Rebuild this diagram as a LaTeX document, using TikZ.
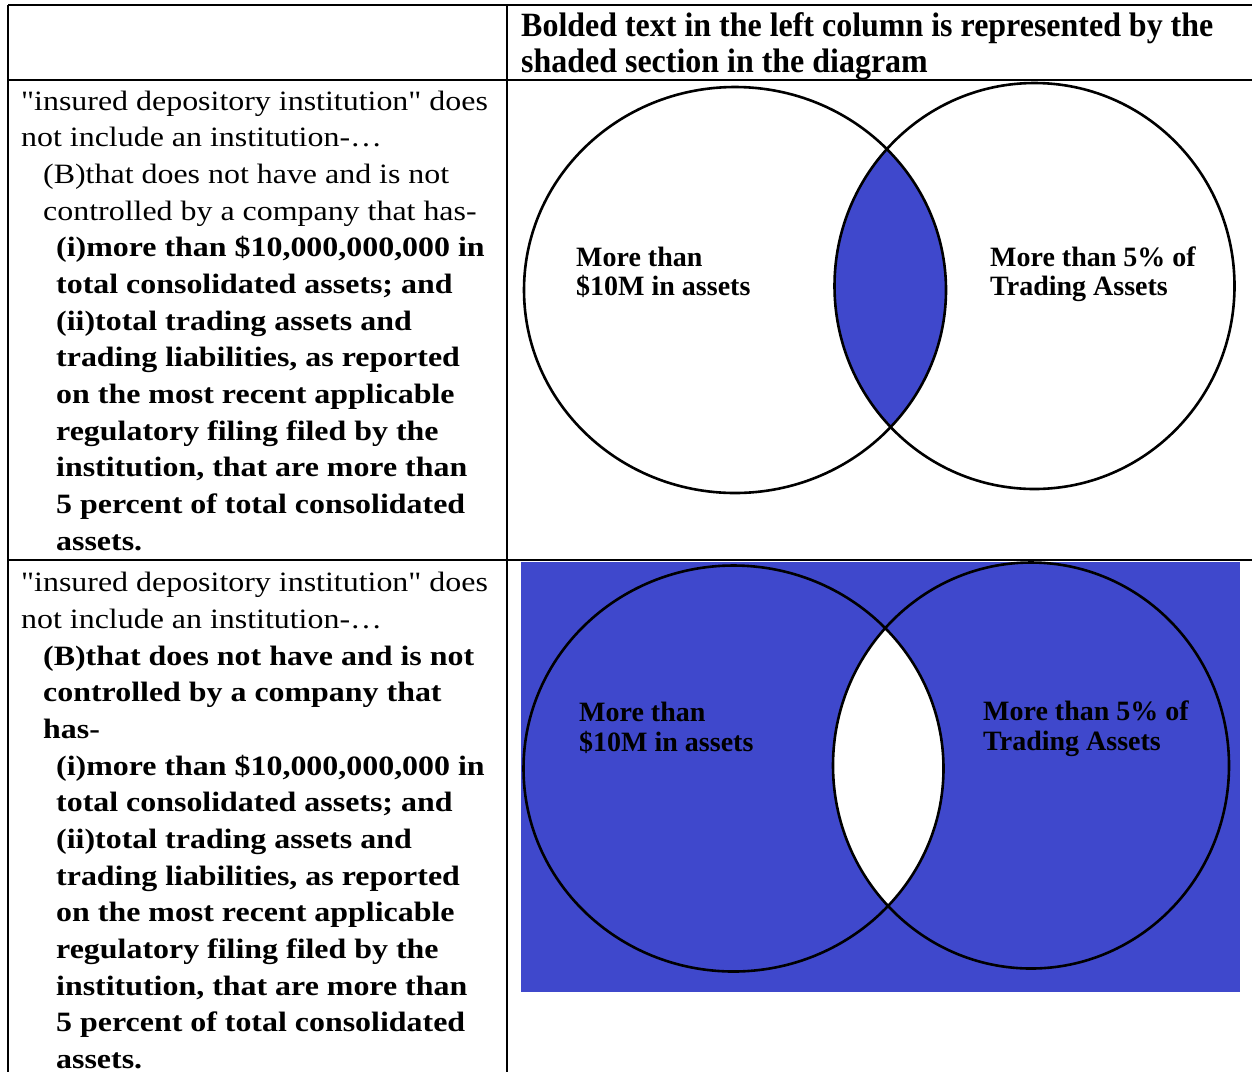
\documentclass[tikz,border=0pt]{standalone}
\usepackage{fontspec}
\setmainfont{Liberation Serif}
\newfontfamily\bodyfont[FakeStretch=1.14]{Liberation Serif}
\newfontfamily\headfont[FakeStretch=0.94]{Liberation Serif}
\newfontfamily\labfont{Liberation Serif}
\definecolor{vennblue}{RGB}{63,72,204}
\begin{document}
\begin{tikzpicture}[x=1pt,y=-1pt,
  body/.style={anchor=base west,inner sep=0pt,font=\bodyfont\fontsize{28}{34}\selectfont},
  bbody/.style={body,font=\bodyfont\bfseries\fontsize{28}{34}\selectfont},
  head/.style={anchor=base west,inner sep=0pt,font=\headfont\bfseries\fontsize{34}{40}\selectfont},
  lab/.style={anchor=base west,inner sep=0pt,font=\labfont\bfseries\fontsize{28}{30}\selectfont},
  rule/.style={line width=1.8pt,black},
  venn/.style={line width=2.6pt,black}]
\useasboundingbox (0,0) rectangle (1252,1072);
\fill[white] (0,0) rectangle (1252,1072);

% table rules
\coordinate (tl) at (8,5);
\coordinate (tr) at (1252,5);
\coordinate (hl) at (8,80);
\coordinate (hr) at (1252,80);
\coordinate (ml) at (8,560);
\coordinate (mr) at (1252,560);
\coordinate (bl) at (8,1072);
\coordinate (ct) at (507,5);
\coordinate (cb) at (507,1072);
\draw[rule] (tl) -- (tr);
\draw[rule] (hl) -- (hr);
\draw[rule] (ml) -- (mr);
\draw[rule] (tl) -- (bl);
\draw[rule] (ct) -- (cb);

% header
\node[head] (h1) at (521,36) {Bolded text in the left column is represented by the};
\node[head] (h2) at (521,72) {shaded section in the diagram};

% top row text
\node[body] (a1) at (21,110) {"insured depository institution" does};
\node[body] (a2) at (21,146.67) {not include an institution-…};
\node[body] (a3) at (43,183.33) {(B)that does not have and is not};
\node[body] (a4) at (43,220) {controlled by a company that has-};
\node[bbody] (a5) at (56,256.67) {(i)more than \$10,000,000,000 in};
\node[bbody] (a6) at (56,293.33) {total consolidated assets; and};
\node[bbody] (a7) at (56,330) {(ii)total trading assets and};
\node[bbody] (a8) at (56,366.67) {trading liabilities, as reported};
\node[bbody] (a9) at (56,403.33) {on the most recent applicable};
\node[bbody] (a10) at (56,440) {regulatory filing filed by the};
\node[bbody] (a11) at (56,476.67) {institution, that are more than};
\node[bbody] (a12) at (56,513.33) {5 percent of total consolidated};
\node[bbody] (a13) at (56,550) {assets.};

% bottom row text
\node[body] (b1) at (21,591.67) {"insured depository institution" does};
\node[body] (b2) at (21,628.33) {not include an institution-…};
\node[bbody] (b3) at (43,665) {(B)that does not have and is not};
\node[bbody] (b4) at (43,701.67) {controlled by a company that};
\node[bbody] (b5) at (43,738.33) {has-};
\node[bbody] (b6) at (56,775) {(i)more than \$10,000,000,000 in};
\node[bbody] (b7) at (56,811.67) {total consolidated assets; and};
\node[bbody] (b8) at (56,848.33) {(ii)total trading assets and};
\node[bbody] (b9) at (56,885) {trading liabilities, as reported};
\node[bbody] (b10) at (56,921.67) {on the most recent applicable};
\node[bbody] (b11) at (56,958.33) {regulatory filing filed by the};
\node[bbody] (b12) at (56,995) {institution, that are more than};
\node[bbody] (b13) at (56,1031.67) {5 percent of total consolidated};
\node[bbody] (b14) at (56,1068.33) {assets.};

% top Venn: intersection shaded
\begin{scope}
  \clip (735,290) ellipse [x radius=211, y radius=203];
  \fill[vennblue] (1034.5,286) ellipse [x radius=200, y radius=203];
\end{scope}
\draw[venn] (735,290) ellipse [x radius=211, y radius=203];
\draw[venn] (1034.5,286) ellipse [x radius=200, y radius=203];
\node[lab] (tl1) at (576,266) {More than};
\node[lab] (tl2) at (576,295) {\$10M in assets};
\node[lab] (tr1) at (990,266) {More than 5\% of};
\node[lab] (tr2) at (990,295) {Trading Assets};

% bottom Venn: everything but intersection shaded
\fill[vennblue] (521,562) rectangle (1240,992);
\begin{scope}
  \clip (733.5,768.5) ellipse [x radius=210, y radius=203];
  \fill[white] (1031,765.5) ellipse [x radius=198, y radius=203];
\end{scope}
\draw[venn] (733.5,768.5) ellipse [x radius=210, y radius=203];
\draw[venn] (1031,765.5) ellipse [x radius=198, y radius=203];
\node[lab] (bl1) at (579,721.5) {More than};
\node[lab] (bl2) at (579,751) {\$10M in assets};
\node[lab] (br1) at (983,720.5) {More than 5\% of};
\node[lab] (br2) at (983,750) {Trading Assets};
\end{tikzpicture}
\end{document}
